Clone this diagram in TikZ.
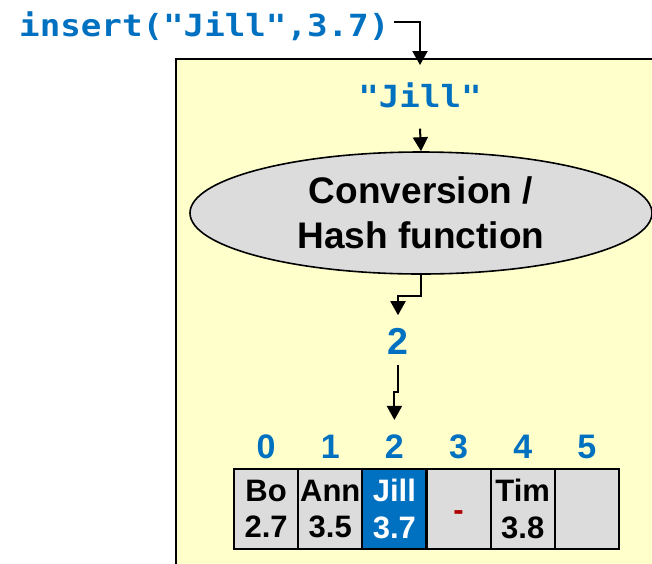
\documentclass[tikz,border=0pt]{standalone}
\usepackage{fontspec}
\setmainfont{Liberation Sans}
\newfontfamily\codefont[FakeStretch=1.12]{DejaVu Sans Mono}
\usetikzlibrary{shapes.geometric,arrows.meta,calc}
\definecolor{hblue}{HTML}{0070C0}
\definecolor{panelbg}{HTML}{FFFFCC}
\definecolor{cellgray}{HTML}{DCDCDC}
\definecolor{gapred}{HTML}{B00000}
\begin{document}
\begin{tikzpicture}[x=1pt,y=-1pt,
  every node/.style={inner sep=0pt},
  arr/.style={line width=2pt,-{Triangle[width=15pt,length=14pt]}},
  panelbox/.style={draw,line width=2pt,fill=panelbg,anchor=north west,minimum width=540pt,minimum height=560pt},
  codetext/.style={font=\codefont\bfseries\fontsize{30.5}{36}\selectfont,text=hblue},
  ellnode/.style={ellipse,draw,line width=1.6pt,fill=cellgray,minimum width=462pt,minimum height=122pt,align=center,font=\bfseries\fontsize{37}{45}\selectfont},
  numtext/.style={font=\bfseries\fontsize{37.5}{40}\selectfont,text=hblue},
  idxtext/.style={font=\bfseries\fontsize{34}{36}\selectfont,text=hblue},
  cell/.style={draw,line width=2pt,fill=cellgray,minimum width=64.17pt,minimum height=80pt,align=center,font=\bfseries\fontsize{31}{36.6}\selectfont},
  hitcell/.style={cell,fill=hblue,text=white},
  gapmark/.style={font=\bfseries\fontsize{31}{36}\selectfont,text=gapred}]
\clip (0,0) rectangle (652,563);
\fill[white] (0,0) rectangle (652,563);
\node[panelbox] (panel) at (175,58) {};
\node[codetext,anchor=base west] (ins) at (19,36) {insert("Jill",3.7)};
\node[codetext,anchor=base] (jq) at (420,107) {"Jill"};
\node[ellnode] (ell) at (421,213) {Conversion /\\Hash function};
\node[numtext] (two) at (398,341.5) {2};
\node[idxtext] (i0) at (266.1,447) {0};
\node[idxtext] (i1) at (330.25,447) {1};
\node[idxtext] (i2) at (394.4,447) {2};
\node[idxtext] (i3) at (458.6,447) {3};
\node[idxtext] (i4) at (522.75,447) {4};
\node[idxtext] (i5) at (586.9,447) {5};
\node[cell] (c0) at (266.1,509) {Bo\\2.7};
\node[cell] (c1) at (330.25,509) {Ann\\3.5};
\node[hitcell] (c2) at (394.4,509) {Jill\\3.7};
\node[cell] (c3) at (458.6,509) {};
\node[cell] (c4) at (522.75,509) {Tim\\3.8};
\node[cell] (c5) at (586.9,509) {};
\node[gapmark,anchor=base] (gap) at ($(c3.center)+(0,11)$) {-};
\draw[arr,shorten >=-7pt] ([xshift=4pt,yshift=3.3pt]ins.east) -| (jq.north |- panel.north);
\draw[arr] ([yshift=-21pt]jq.south) -- (ell.north);
\draw[arr] (ell.south) -- ++(0,21) -| ([yshift=13pt]two.north);
\draw[arr] ([yshift=-10pt]two.south) -- ++(0,27) -| ([yshift=15pt]i2.north);
\end{tikzpicture}
\end{document}
